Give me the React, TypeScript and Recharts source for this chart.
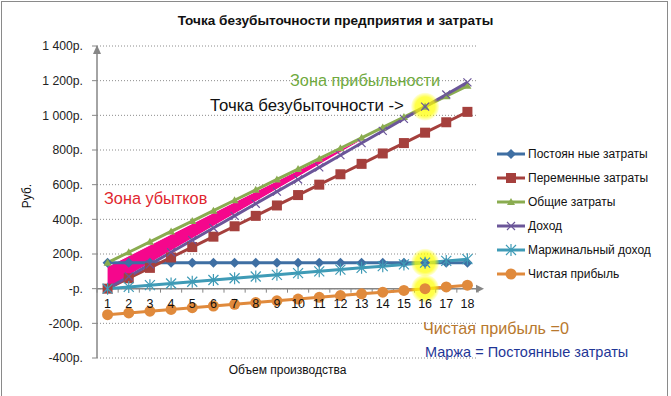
import React from 'react';
import {
  ComposedChart,
  Line,
  Area,
  XAxis,
  YAxis,
  CartesianGrid,
  Legend,
  ReferenceLine,
  ReferenceDot,
  usePlotArea,
} from 'recharts';

const FONT = "'Liberation Sans', Arial, sans-serif";

const units = [1, 2, 3, 4, 5, 6, 7, 8, 9, 10, 11, 12, 13, 14, 15, 16, 17, 18];
const fixedCosts = [150, 150, 150, 150, 150, 150, 150, 150, 150, 150, 150, 150, 150, 150, 150, 150, 150, 150];
const variableCosts = [0, 60, 120, 180, 240, 300, 360, 420, 480, 540, 600, 660, 720, 780, 840, 900, 960, 1020];
const totalCosts = [150, 210, 270, 330, 390, 450, 510, 570, 630, 690, 750, 810, 870, 930, 990, 1050, 1110, 1170];
const revenue = [0, 70, 140, 210, 280, 350, 420, 490, 560, 630, 700, 770, 840, 910, 980, 1050, 1120, 1190];
const marginalIncome = [0, 10, 20, 30, 40, 50, 60, 70, 80, 90, 100, 110, 120, 130, 140, 150, 160, 170];
const netProfit = [-150, -140, -130, -120, -110, -100, -90, -80, -70, -60, -50, -40, -30, -20, -10, 0, 10, 20];

// pink "loss zone" shape, drawn between total costs and revenue
const lossZoneTop = [128, 190, 252, 314, 376, 438, 500, 561, 622, 683, 744, 804, 864];
const lossZoneBottom = [0, 76, 147, 218, 289, 360, 431, 502, 573, 644, 715, 786, 856];

const yTicks = [-400, -200, 0, 200, 400, 600, 800, 1000, 1200, 1400];

// yellow highlights at the break-even point
const highlights = [
  { x: 16, y: 1050 },
  { x: 16, y: 150 },
  { x: 16, y: 0 },
];

const COLORS = {
  fixed: '#3f6fa3',
  variable: '#a5403d',
  total: '#8aac50',
  revenue: '#6b5699',
  marginal: '#3f9bb6',
  profit: '#e08a3c',
};

const SERIES = [
  { key: 'fixed', name: 'Постоян ные затраты', shape: 'diamond' },
  { key: 'variable', name: 'Переменные затраты', shape: 'square' },
  { key: 'total', name: 'Общие затраты', shape: 'triangle' },
  { key: 'revenue', name: 'Доход', shape: 'cross' },
  { key: 'marginal', name: 'Маржинальный доход', shape: 'star' },
  { key: 'profit', name: 'Чистая прибыль', shape: 'circle' },
];

const data = units.map((n, i) => ({
  n,
  fixed: fixedCosts[i],
  variable: variableCosts[i],
  total: totalCosts[i],
  revenue: revenue[i],
  marginal: marginalIncome[i],
  profit: netProfit[i],
  zone: i < lossZoneTop.length ? [lossZoneBottom[i], lossZoneTop[i]] : null,
}));

function Marker({ shape, cx, cy, color }: any) {
  if (cx == null || cy == null) return null;
  switch (shape) {
    case 'diamond':
      return <path d={`M${cx} ${cy - 5}L${cx + 5} ${cy}L${cx} ${cy + 5}L${cx - 5} ${cy}Z`} fill={color} />;
    case 'square':
      return <rect x={cx - 5} y={cy - 5} width={10} height={10} fill={color} />;
    case 'triangle':
      return <path d={`M${cx} ${cy - 4}L${cx + 4} ${cy + 3}L${cx - 4} ${cy + 3}Z`} fill={color} />;
    case 'cross':
      return (
        <path
          d={`M${cx - 4} ${cy - 4}L${cx + 4} ${cy + 4}M${cx - 4} ${cy + 4}L${cx + 4} ${cy - 4}`}
          stroke={color}
          strokeWidth={1.2}
        />
      );
    case 'star':
      return (
        <path
          d={`M${cx - 5} ${cy - 5}L${cx + 5} ${cy + 5}M${cx - 5} ${cy + 5}L${cx + 5} ${cy - 5}M${cx} ${cy - 6}L${cx} ${cy + 6}`}
          stroke={color}
          strokeWidth={1.2}
        />
      );
    default:
      return <circle cx={cx} cy={cy} r={5.5} fill={color} />;
  }
}

function formatRub(v: number) {
  if (v === 0) return '-р.';
  const abs = Math.abs(v);
  const s = abs >= 1000 ? `${Math.floor(abs / 1000)} ${String(abs % 1000).padStart(3, '0')}` : String(abs);
  return `${v < 0 ? '-' : ''}${s}р.`;
}

function LegendContent() {
  return (
    <div style={{ fontFamily: FONT, fontSize: 12, color: '#111' }}>
      {SERIES.map((s) => {
        const color = (COLORS as any)[s.key];
        return (
          <div key={s.key} style={{ display: 'flex', alignItems: 'center', height: 24 }}>
            <svg width={30} height={14} style={{ marginRight: 1 }}>
              <line x1={0} y1={7} x2={28} y2={7} stroke={color} strokeWidth={3} />
              <Marker shape={s.shape} cx={14} cy={7} color={color} />
            </svg>
            <span style={{ whiteSpace: 'nowrap' }}>{s.name}</span>
          </div>
        );
      })}
    </div>
  );
}

function ZeroAxis(props: any) {
  const { x1, y1, x2 } = props;
  const step = (x2 - x1) / units.length;
  const ticks = [];
  for (let k = 0; k <= units.length; k++) {
    const x = x1 + k * step;
    ticks.push(<line key={k} x1={x} y1={y1} x2={x} y2={y1 + 4} stroke="#868686" strokeWidth={1} />);
  }
  return (
    <g>
      <line x1={x1} y1={y1} x2={x2 + 2} y2={y1} stroke="#868686" strokeWidth={1.5} />
      {ticks}
      <path d={`M${x2 + 6} ${y1}L${x2 - 2} ${y1 - 4}L${x2 - 2} ${y1 + 4}Z`} fill="#868686" />
    </g>
  );
}

function Decorations() {
  const plot = usePlotArea();
  if (!plot) return null;
  const ax = plot.x;
  const ay = plot.y;
  return (
    <g style={{ fontFamily: FONT }}>
      <path d={`M${ax} ${ay - 1}L${ax - 4} ${ay + 8}L${ax + 4} ${ay + 8}Z`} fill="#868686" />
      <text x={335.5} y={25} textAnchor="middle" fontSize={13.6} fontWeight="bold" fill="#111">
        Точка безубыточности предприятия и затраты
      </text>
      <text x={27} y={196} textAnchor="middle" dominantBaseline="central" fontSize={12} fill="#111" transform="rotate(-90 27 196)">
        Руб.
      </text>
      <text x={290} y={86} fontSize={16.3} fill="#6faa3e">Зона прибыльности</text>
      <text x={210} y={111} fontSize={16.8} fill="#111">Точка безубыточности -&gt;</text>
      <text x={104} y={204} fontSize={16.3} fill="#e0262e">Зона убытков</text>
      <text x={423} y={334} fontSize={16.2} fill="#b8782e">Чистая прибыль =0</text>
      <text x={425} y={357} fontSize={14.5} fill="#1f3696">Маржа = Постоянные затраты</text>
    </g>
  );
}

export default function App() {
  return (
    <div style={{ position: 'absolute', left: 0, top: 0, width: 671, height: 396, background: '#fff', overflow: 'hidden' }}>
      <div
        style={{
          position: 'absolute',
          left: 1,
          top: 1,
          width: 667,
          height: 400,
          border: '1px solid #8a8a8a',
          boxSizing: 'border-box',
        }}
      />
      <ComposedChart
        width={671}
        height={396}
        data={data}
        margin={{ top: 46, right: 193, bottom: 0, left: 0 }}
        style={{ fontFamily: FONT }}
      >
        <defs>
          <radialGradient id="glow">
            <stop offset="0%" stopColor="#ffff00" stopOpacity={0.8} />
            <stop offset="70%" stopColor="#ffff00" stopOpacity={0.7} />
            <stop offset="100%" stopColor="#ffff00" stopOpacity={0.1} />
          </radialGradient>
        </defs>
        <CartesianGrid vertical={false} stroke="#8c8c8c" strokeDasharray="1 2" />
        <XAxis
          dataKey="n"
          scale="band"
          height={38}
          tick={false}
          axisLine={false}
          tickLine={false}
          label={{ value: 'Объем производства', position: 'insideTop', offset: 7, fontSize: 12, fill: '#111' }}
        />
        <YAxis
          width={97}
          domain={[-400, 1400]}
          ticks={yTicks}
          interval={0}
          tickFormatter={formatRub}
          tick={{ fontSize: 12.2, fill: '#222' }}
          tickSize={5}
          tickMargin={9}
          axisLine={{ stroke: '#868686', strokeWidth: 1.5 }}
          tickLine={{ stroke: '#868686' }}
        />
        <ReferenceLine y={0} shape={ZeroAxis} />
        <Area
          dataKey="zone"
          type="linear"
          fill="#f5078c"
          fillOpacity={1}
          stroke="#fff"
          strokeWidth={1}
          legendType="none"
          isAnimationActive={false}
        />
        {SERIES.map((s) => {
          const color = (COLORS as any)[s.key];
          return (
            <Line
              key={s.key}
              dataKey={s.key}
              name={s.name}
              type="linear"
              stroke={color}
              strokeWidth={3}
              dot={(p: any) => <Marker key={`${s.key}-${p.index}`} shape={s.shape} cx={p.cx} cy={p.cy} color={color} />}
              activeDot={false}
              isAnimationActive={false}
            />
          );
        })}
        {units.map((n) => (
          <ReferenceDot
            key={`lbl-${n}`}
            x={n}
            y={0}
            r={0}
            fill="none"
            stroke="none"
            label={{ value: String(n), position: 'bottom', offset: 10, fontSize: 12.5, fill: '#111' }}
          />
        ))}
        {highlights.map((h, i) => (
          <ReferenceDot key={`hl-${i}`} x={h.x} y={h.y} r={14} fill="url(#glow)" stroke="none" />
        ))}
        <Legend
          layout="vertical"
          align="center"
          verticalAlign="middle"
          content={<LegendContent />}
          wrapperStyle={{ left: 497, top: 142, width: 'auto' }}
        />
        <Decorations />
      </ComposedChart>
    </div>
  );
}
